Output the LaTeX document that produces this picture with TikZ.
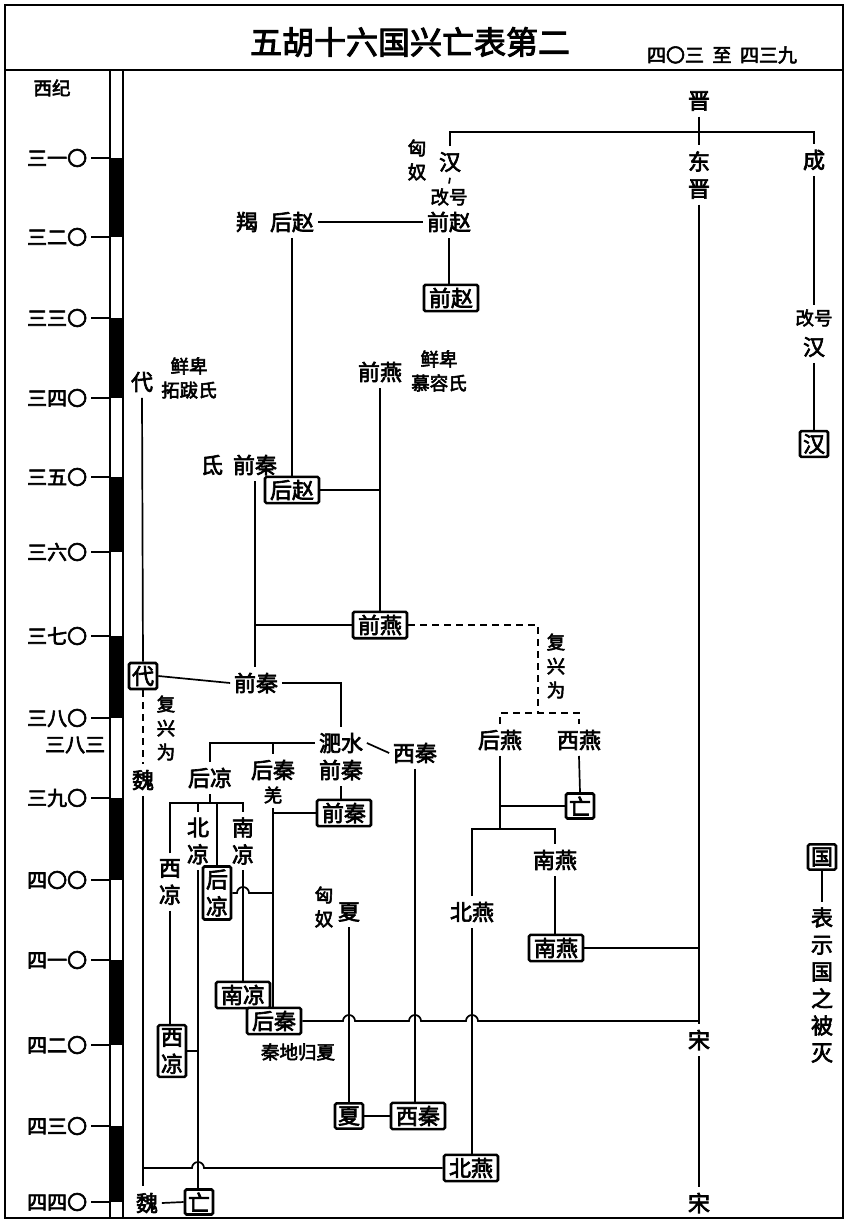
\documentclass[tikz,border=0pt]{standalone}
\usepackage{fontspec}
\setmainfont{Noto Sans CJK SC}[FakeBold=3]
\usetikzlibrary{calc}

\begin{document}
\begin{tikzpicture}[
    x=1pt, y=-1pt,
    line width=1.7pt,
    lbl/.style={inner xsep=3pt, inner ysep=5pt, align=center,
                font=\fontsize{22}{27}\selectfont},
    sml/.style={inner xsep=2pt, inner ysep=4pt, align=center,
                font=\fontsize{18.5}{24}\selectfont},
    fallen/.style={lbl, draw, line width=2.6pt, rounded corners=1.5pt,
                   fill=white, inner xsep=5pt, inner ysep=3pt},
    ax/.style={inner sep=0pt, anchor=east, font=\fontsize{20}{20}\selectfont},
    dsh/.style={dash pattern=on 7pt off 5pt}
]
  \useasboundingbox (0,0) rectangle (850,1222);
  \draw[line width=2pt] (5,5) rectangle (843,1218);
  \draw[line width=2pt] (5,70) -- (843,70);
  \node[font=\fontsize{32}{32}\selectfont] (title) at (410,42) {五胡十六国兴亡表第二};
  \node[font=\fontsize{19}{19}\selectfont] (span) at (722,55) {四〇三\ \ 至\ \ 四三九};

  % time axis
  \node[sml] (xiji) at (52,88) {西纪};
  \draw[line width=1.4pt] (110,70) -- (110,1218) (123,70) -- (123,1218);
  \foreach \a/\b in {158/237, 318/398, 477/552, 636/718, 798/880, 960/1045, 1126/1202}
    \fill (110,\a) rectangle (123,\b);
  \foreach \y/\t in {158/三一〇, 237/三二〇, 318/三三〇, 398/三四〇, 477/三五〇,
                     552/三六〇, 636/三七〇, 718/三八〇, 798/三九〇, 880/四〇〇,
                     960/四一〇, 1045/四二〇, 1126/四三〇, 1202/四四〇} {
    \node[ax] (t\y) at (88,\y) {\t};
    \draw[line width=1.3pt] ([xshift=3pt]t\y.east) -- (110,\y);
  }
  \node[ax] (t383) at (106,745) {三八三};

  \node[lbl] (jin) at (699,101) {晋};
  \node[lbl] (dongjin) at (699,175) {东\\晋};
  \node[lbl] (cheng) at (814,160) {成};
  \node[sml] (gh2) at (814,318) {改号};
  \node[lbl] (han2) at (814,347) {汉};
  \node[fallen, inner xsep=3pt] (hanbox) at (814,444) {汉};
  \node[lbl] (han) at (450,162) {汉};
  \node[sml] (xn1) at (417,160) {匈\\奴};
  \node[sml] (gh1) at (449,197) {改号};
  \node[lbl] (qz) at (449,222) {前赵};
  \node[lbl] (jie) at (247,222) {羯};
  \node[lbl] (hz) at (292,222) {后赵};
  \node[fallen] (qzbox) at (451,298) {前赵};
  \node[lbl] (dai) at (142,382) {代};
  \node[sml] (xb1) at (189,378) {鲜卑\\拓跋氏};
  \node[lbl] (qy) at (380,372) {前燕};
  \node[sml] (xb2) at (439,371) {鲜卑\\慕容氏};
  \node[lbl] (di) at (212,465) {氐};
  \node[lbl] (qq) at (255,465) {前秦};
  \node[fallen] (hzbox) at (292,490) {后赵};
  \node[fallen] (qybox) at (380,625) {前燕};
  \node[fallen, inner xsep=3pt] (daibox) at (143,676) {代};
  \node[lbl] (qq2) at (256,683) {前秦};
  \node[sml] (fx1) at (166,728) {复\\兴\\为};
  \node[lbl] (wei) at (143,780) {魏};
  \node[lbl] (fs) at (341,743) {淝水};
  \node[lbl] (qq3) at (341,770) {前秦};
  \node[lbl] (xq) at (415,753) {西秦};
  \node[lbl] (hl) at (210,778) {后凉};
  \node[lbl] (hq) at (273,770) {后秦};
  \node[sml] (qiang) at (273,795) {羌};
  \node[lbl] (hy) at (500,740) {后燕};
  \node[lbl] (xy) at (579,740) {西燕};
  \node[sml] (fx2) at (556,666) {复\\兴\\为};
  \node[fallen] (qqbox) at (344,813) {前秦};
  \node[lbl] (bl) at (198,841) {北\\凉};
  \node[lbl] (nl) at (243,841) {南\\凉};
  \node[lbl] (xl) at (170,882) {西\\凉};
  \node[fallen, inner xsep=3pt] (hlbox) at (217,893) {后\\凉};
  \node[sml] (xn2) at (324,907) {匈\\奴};
  \node[lbl] (xia) at (349,912) {夏};
  \node[lbl] (by) at (472,912) {北燕};
  \node[lbl] (ny) at (555,860) {南燕};
  \node[fallen, inner xsep=3pt] (wang1) at (580,806) {亡};
  \node[fallen] (nybox) at (556,948) {南燕};
  \node[fallen] (nlbox) at (243,995) {南凉};
  \node[fallen] (hqbox) at (274,1021) {后秦};
  \node[fallen, inner xsep=3pt] (xlbox) at (172,1051) {西\\凉};
  \node[sml] (qd) at (298,1052) {秦地归夏};
  \node[fallen, inner xsep=3pt] (xiabox) at (349,1116) {夏};
  \node[fallen] (xqbox) at (418,1116) {西秦};
  \node[fallen] (bybox) at (471,1168) {北燕};
  \node[lbl] (wei2) at (147,1203) {魏};
  \node[fallen, inner xsep=3pt] (wang2) at (199,1202) {亡};
  \node[lbl] (song1) at (699,1040) {宋};
  \node[lbl] (song2) at (699,1203) {宋};
  \node[fallen, inner xsep=3pt] (lgbox) at (822,857) {国};
  \node[lbl] (lgtext) at (822,985) {表\\示\\国\\之\\被\\灭};

  \coordinate (jb) at (699,132);
  \coordinate (weiend) at (143,1186);
  \coordinate (hlj) at (210,803);
  \coordinate (yj) at (500,829);
  \coordinate (dj) at (538,713);

  \draw (jin.south) -- (dongjin.north);
  \draw (han.north) -- (han.north |- jb) -- (cheng.north |- jb) -- (cheng.north);
  \draw (dongjin.south) -- (song1.north);
  \draw (song1.south) -- (song2.north);
  \draw (cheng.south) -- (gh2.north);
  \draw (han2.south) -- (hanbox.north);
  \draw (han.south) -- (gh1.north);
  \draw (hz.east) -- (qz.west);
  \draw (qz.south) -- (qz.south |- qzbox.north);
  \draw (hz.south) -- (hzbox.north);
  \draw (hzbox.east) -- (hzbox.east -| qy.south);
  \draw (qy.south) -- (qybox.north);
  \draw (dai.south) -- (daibox.north);
  \draw (qq.south) -- (qq.south |- qq2.north);
  \draw (qybox.west) -- (qybox.west -| qq.south);
  \draw (daibox.east) -- (qq2.west);
  \draw (qq2.east) -| (fs.north);
  \draw[dsh] (daibox.south) -- (wei.north);
  \draw (wei.south) -- (weiend);
  \draw (wei2.east) -- (wang2.west);
  \draw (fs.west) -| (hl.north);
  \draw (hq.north |- fs.west) -- (hq.north);
  \draw (fs.east) -- (xq.west);
  \draw (xq.south) -- (xq.south |- xqbox.north);
  \draw (qq3.south) -- (qq3.south |- qqbox.north);
  \draw (hl.south) -- (hlj);
  \draw (xl.north) -- (xl.north |- hlj) -- (nl.north |- hlj) -- (nl.north);
  \draw (bl.north) -- (bl.north |- hlj);
  \draw (hlbox.north) -- (hlbox.north |- hlj);
  \draw (bl.south) -- (bl.south |- wang2.north);
  \draw (xl.south) -- (xl.south |- xlbox.north);
  \draw (xlbox.east) -- (xlbox.east -| bl.south);
  \draw (nl.south) -- (nlbox.north);
  \draw (qiang.south) -- (qiang.south |- hqbox.north);
  \draw (qqbox.west) -- (qqbox.west -| qiang.south);
  \draw (hlbox.east) -- ($(hlbox.east -| nl.south)+(-6,0)$)
    arc[start angle=180, end angle=360, radius=6] -- (hlbox.east -| qiang.south);
  \draw (hqbox.east) -- ($(hqbox.east -| xia.south)+(-6,0)$)
    arc[start angle=180, end angle=360, radius=6] -- ($(hqbox.east -| xq.south)+(-6,0)$)
    arc[start angle=180, end angle=360, radius=6] -- ($(hqbox.east -| by.south)+(-6,0)$)
    arc[start angle=180, end angle=360, radius=6] -- (hqbox.east -| song1.north);
  \draw (xia.south) -- (xiabox.north);
  \draw (xiabox.east) -- (xqbox.west);
  \draw (hy.south) -- (yj);
  \draw (by.north) -- (by.north |- yj) -| (ny.north);
  \draw (xy.south) -- (wang1.north);
  \draw (wang1.west) -- (wang1.west -| hy.south);
  \draw (by.south) -- (by.south |- bybox.north);
  \draw (ny.south) -- (ny.south |- nybox.north);
  \draw (nybox.east) -- (nybox.east -| song1.north);
  \draw[dsh] (qybox.east) -| (dj);
  \draw[dsh] (hy.north) -- (hy.north |- dj) -- (xy.north |- dj) -- (xy.north);
  \draw (bybox.west) -- ($(bybox.west -| bl.south)+(6,0)$)
    arc[start angle=0, end angle=-180, radius=6] -- (bybox.west -| wei.south);
  \draw (lgbox.south) -- (lgtext.north);
\end{tikzpicture}
\end{document}
